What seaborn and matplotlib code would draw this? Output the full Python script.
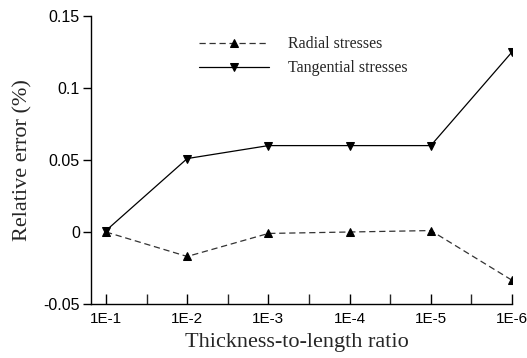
import matplotlib
matplotlib.use("Agg")
import matplotlib.pyplot as plt
import seaborn as sns
import pandas as pd
from matplotlib.ticker import MultipleLocator

ratios = ["1E-1", "1E-2", "1E-3", "1E-4", "1E-5", "1E-6"]
radial = [0.0, -0.017, -0.001, 0.0, 0.001, -0.0335]
tangential = [0.001, 0.051, 0.060, 0.060, 0.060, 0.125]
yticks = [-0.05, 0, 0.05, 0.1, 0.15]
ytick_labels = ["-0.05", "0", "0.05", "0.1", "0.15"]

sns.set_style("ticks")
plt.rcParams["font.family"] = ["Liberation Sans", "DejaVu Sans"]

fig = plt.figure(figsize=(5.27, 3.58), dpi=100)
ax = fig.add_axes([91/527, 54/358, (512-91)/527, (304-16)/358])

pos = list(range(len(ratios)))
df_r = pd.DataFrame({"x": pos, "y": radial})
df_t = pd.DataFrame({"x": pos, "y": tangential})

sns.lineplot(data=df_r, x="x", y="y", ax=ax, color="#333333", lw=0.9,
             linestyle=(0, (5, 3)), marker="^", markersize=6,
             markerfacecolor="black", markeredgecolor="black",
             label="Radial stresses")
sns.lineplot(data=df_t, x="x", y="y", ax=ax, color="black", lw=0.9,
             marker="v", markersize=6,
             markerfacecolor="black", markeredgecolor="black",
             label="Tangential stresses")

ax.set_xlim(-0.185, 5.0)
ax.set_ylim(-0.05, 0.15)
ax.set_xticks(pos)
ax.set_xticklabels(ratios)
ax.xaxis.set_minor_locator(MultipleLocator(0.5))
ax.set_yticks(yticks)
ax.set_yticklabels(ytick_labels)

for s in ["top", "right"]:
    ax.spines[s].set_visible(False)
for s in ["left", "bottom"]:
    ax.spines[s].set_linewidth(1.0)
    ax.spines[s].set_color("black")

ax.tick_params(axis="x", which="major", direction="in", length=7, width=1,
               labelsize=11, pad=6, colors="black")
ax.tick_params(axis="x", which="minor", direction="in", length=7, width=1)
ax.tick_params(axis="y", which="major", direction="out", length=6, width=1,
               labelsize=11.5, pad=2, colors="black")

ax.set_xlabel("Thickness-to-length ratio", family=["Liberation Serif"], fontsize=16, labelpad=3)
ax.xaxis.set_label_coords(0.488, -0.1)
ax.xaxis.label.set_va("top")
ax.set_ylabel("Relative error (%)", family=["Liberation Serif"], fontsize=16, labelpad=8)

leg = ax.legend(loc="upper left", bbox_to_anchor=(0.222, 0.98), frameon=False,
                handlelength=4.4, handletextpad=1.2, labelspacing=0.5,
                prop={"family": "Liberation Serif", "size": 11.5})

fig.savefig("out.png", dpi=100)
